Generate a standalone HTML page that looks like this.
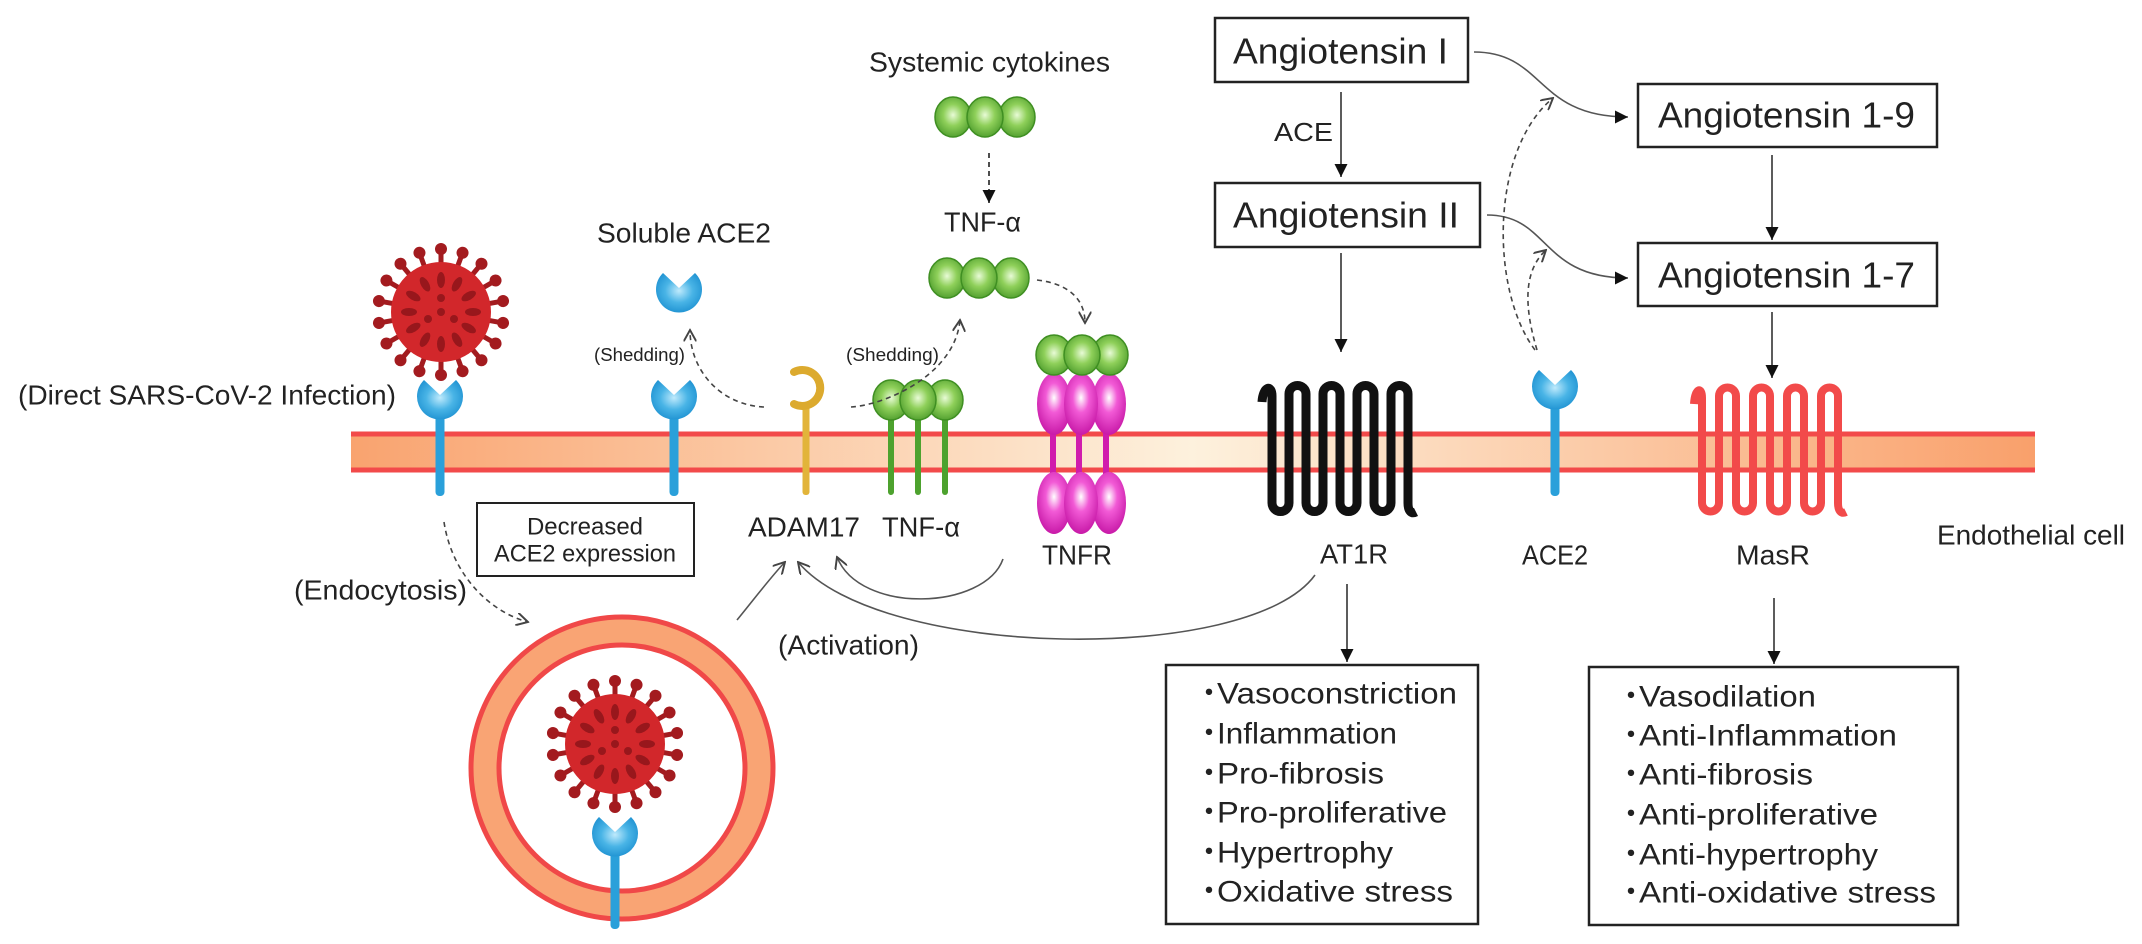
<!DOCTYPE html>
<html><head><meta charset="utf-8"><style>
html,body{margin:0;padding:0;background:#fff;}
svg{display:block;}
text{font-family:"Liberation Sans",Arial,sans-serif;fill:#222;}
</style></head><body>
<svg width="2142" height="944" viewBox="0 0 2142 944" xmlns="http://www.w3.org/2000/svg">
<defs>
  <linearGradient id="mem" x1="0" x2="1" y1="0" y2="0">
    <stop offset="0" stop-color="#f9a36f"/>
    <stop offset="0.5" stop-color="#fdf1dd"/>
    <stop offset="1" stop-color="#f9a06b"/>
  </linearGradient>
  <radialGradient id="blue" cx="0.5" cy="0.45" r="0.6">
    <stop offset="0" stop-color="#bfeafc"/><stop offset="0.5" stop-color="#49b4e6"/><stop offset="1" stop-color="#1b8fd0"/>
  </radialGradient>
  <radialGradient id="green" cx="0.5" cy="0.45" r="0.6">
    <stop offset="0" stop-color="#e8fbd6"/><stop offset="0.45" stop-color="#8fd05a"/><stop offset="1" stop-color="#4a9a2a"/>
  </radialGradient>
  <radialGradient id="mag" cx="0.5" cy="0.4" r="0.6">
    <stop offset="0" stop-color="#fff"/><stop offset="0.4" stop-color="#f25ad6"/><stop offset="1" stop-color="#c81aa8"/>
  </radialGradient>
  <marker id="fa" viewBox="0 0 10 10" refX="10" refY="5" markerWidth="13" markerHeight="13" markerUnits="userSpaceOnUse" orient="auto">
    <path d="M0,0 L10,5 L0,10z" fill="#111"/></marker>
  <marker id="oa" viewBox="0 0 10 10" refX="9" refY="5" markerWidth="13" markerHeight="13" markerUnits="userSpaceOnUse" orient="auto">
    <path d="M0,0 L9,5 L0,10" fill="none" stroke="#444" stroke-width="1.5"/></marker>
  <g id="sp"><line x1="0" y1="-48" x2="0" y2="-60" stroke="#a31b1f" stroke-width="5"/><circle cy="-63" r="6" fill="#a31b1f"/></g>
  <g id="dt"><ellipse cx="0" cy="-32" rx="4" ry="8" fill="#98171c"/></g>
  <g id="virus">
    <use href="#sp"/><use href="#sp" transform="rotate(20)"/><use href="#sp" transform="rotate(40)"/><use href="#sp" transform="rotate(60)"/><use href="#sp" transform="rotate(80)"/><use href="#sp" transform="rotate(100)"/><use href="#sp" transform="rotate(120)"/><use href="#sp" transform="rotate(140)"/><use href="#sp" transform="rotate(160)"/><use href="#sp" transform="rotate(180)"/><use href="#sp" transform="rotate(200)"/><use href="#sp" transform="rotate(220)"/><use href="#sp" transform="rotate(240)"/><use href="#sp" transform="rotate(260)"/><use href="#sp" transform="rotate(280)"/><use href="#sp" transform="rotate(300)"/><use href="#sp" transform="rotate(320)"/><use href="#sp" transform="rotate(340)"/>
    <circle r="50" fill="#d2272b"/>
    <use href="#dt"/><use href="#dt" transform="rotate(30)"/><use href="#dt" transform="rotate(60)"/><use href="#dt" transform="rotate(90)"/><use href="#dt" transform="rotate(120)"/><use href="#dt" transform="rotate(150)"/><use href="#dt" transform="rotate(180)"/><use href="#dt" transform="rotate(210)"/><use href="#dt" transform="rotate(240)"/><use href="#dt" transform="rotate(270)"/><use href="#dt" transform="rotate(300)"/><use href="#dt" transform="rotate(330)"/>
    <circle cx="0" cy="-14" r="4" fill="#98171c"/><circle cx="13" cy="7" r="4" fill="#98171c"/><circle cx="-13" cy="7" r="4" fill="#98171c"/><circle r="4" fill="#98171c"/>
  </g>
  <path id="cup" d="M-16,-17 A23,23 0 1,0 16,-17 L0,-2 Z" fill="url(#blue)"/>
  <g id="ball"><ellipse rx="18" ry="20" fill="url(#green)" stroke="#3f8f22" stroke-width="1.5"/></g>
  <g id="mo"><ellipse rx="17" ry="31" fill="url(#mag)"/></g>
</defs>

<rect x="351" y="432" width="1684" height="40" fill="url(#mem)"/>
<line x1="351" y1="434" x2="2035" y2="434" stroke="#f24a4a" stroke-width="5"/>
<line x1="351" y1="470" x2="2035" y2="470" stroke="#f24a4a" stroke-width="5"/>

<use href="#virus" transform="translate(441,312)"/>
<rect x="435.5" y="410" width="9" height="86" rx="4" fill="#2aa0da"/>
<use href="#cup" transform="translate(440,397)"/>
<rect x="669.5" y="410" width="9" height="86" rx="4" fill="#2aa0da"/>
<use href="#cup" transform="translate(674,397)"/>
<use href="#cup" transform="translate(679,290)"/>
<rect x="1550.5" y="400" width="9" height="96" rx="4" fill="#2aa0da"/>
<use href="#cup" transform="translate(1555,387)"/>

<rect x="802.5" y="405" width="7" height="90" rx="3" fill="#e2b43a"/>
<path d="M794,372 A18,18 0 1,1 794,404" fill="none" stroke="#dcaa2e" stroke-width="8" stroke-linecap="round"/>

<rect x="888" y="415" width="6" height="80" rx="3" fill="#4da22e"/>
<rect x="915" y="415" width="6" height="80" rx="3" fill="#4da22e"/>
<rect x="942" y="415" width="6" height="80" rx="3" fill="#4da22e"/>
<use href="#ball" transform="translate(891,400)"/><use href="#ball" transform="translate(945,400)"/><use href="#ball" transform="translate(918,400)"/>

<rect x="1050" y="425" width="6" height="60" fill="#d01cad"/>
<rect x="1076" y="425" width="6" height="60" fill="#d01cad"/>
<rect x="1103" y="425" width="6" height="60" fill="#d01cad"/>
<use href="#mo" transform="translate(1054,404)"/><use href="#mo" transform="translate(1109,404)"/><use href="#mo" transform="translate(1081,404)"/>
<use href="#mo" transform="translate(1054,503)"/><use href="#mo" transform="translate(1109,503)"/><use href="#mo" transform="translate(1081,503)"/>
<use href="#ball" transform="translate(1054,355)"/><use href="#ball" transform="translate(1110,355)"/><use href="#ball" transform="translate(1082,355)"/>

<use href="#ball" transform="translate(953,117)"/><use href="#ball" transform="translate(1017,117)"/><use href="#ball" transform="translate(985,117)"/>
<use href="#ball" transform="translate(947,278)"/><use href="#ball" transform="translate(1011,278)"/><use href="#ball" transform="translate(979,278)"/>

<path d="M1262,402 C1263,386 1272,384 1272,396 L1272,503 A8.5,8.5 0 0,0 1289,503 L1289,394 A8.5,8.5 0 0,1 1306,394 L1306,503 A8.5,8.5 0 0,0 1323,503 L1323,394 A8.5,8.5 0 0,1 1340,394 L1340,503 A8.5,8.5 0 0,0 1357,503 L1357,394 A8.5,8.5 0 0,1 1374,394 L1374,503 A8.5,8.5 0 0,0 1391,503 L1391,394 A8.5,8.5 0 0,1 1408,394 L1408,503 C1408,512 1412,514 1416,512" fill="none" stroke="#111" stroke-width="9" stroke-linejoin="round"/>
<path d="M1694,404 C1695,388 1702,386 1702,398 L1702,503 A8.5,8.5 0 0,0 1719,503 L1719,396 A8.5,8.5 0 0,1 1736,396 L1736,503 A8.5,8.5 0 0,0 1753,503 L1753,396 A8.5,8.5 0 0,1 1770,396 L1770,503 A8.5,8.5 0 0,0 1787,503 L1787,396 A8.5,8.5 0 0,1 1804,396 L1804,503 A8.5,8.5 0 0,0 1821,503 L1821,396 A8.5,8.5 0 0,1 1838,396 L1838,503 C1838,512 1842,514 1846,512" fill="none" stroke="#f24a4a" stroke-width="8" stroke-linejoin="round"/>

<circle cx="622" cy="768" r="137" fill="none" stroke="#f9a474" stroke-width="28"/>
<circle cx="622" cy="768" r="151" fill="none" stroke="#f04848" stroke-width="5"/>
<circle cx="622" cy="768" r="123" fill="none" stroke="#f04848" stroke-width="5"/>
<rect x="610.5" y="845" width="9" height="84" rx="4" fill="#2aa0da"/>
<use href="#virus" transform="translate(615,744)"/>
<use href="#cup" transform="translate(615,834)"/>

<g fill="#fff" stroke="#222" stroke-width="2.5">
  <rect x="1215" y="18" width="253" height="64"/>
  <rect x="1215" y="183" width="265" height="64"/>
  <rect x="1638" y="84" width="299" height="63"/>
  <rect x="1638" y="243" width="299" height="63"/>
  <rect x="477" y="503" width="217" height="73" stroke-width="2"/>
  <rect x="1166" y="665" width="312" height="259"/>
  <rect x="1589" y="667" width="369" height="258"/>
</g>

<g fill="none" stroke="#333" stroke-width="1.6">
  <line x1="1341" y1="92" x2="1341" y2="177" marker-end="url(#fa)"/>
  <line x1="1341" y1="253" x2="1341" y2="352" marker-end="url(#fa)"/>
  <line x1="1772" y1="155" x2="1772" y2="240" marker-end="url(#fa)"/>
  <line x1="1772" y1="312" x2="1772" y2="378" marker-end="url(#fa)"/>
  <line x1="1347" y1="584" x2="1347" y2="662" marker-end="url(#fa)"/>
  <line x1="1774" y1="598" x2="1774" y2="664" marker-end="url(#fa)"/>
  <path d="M1474,52 C1545,52 1535,117 1628,117" stroke="#555" marker-end="url(#fa)"/>
  <path d="M1487,215 C1550,215 1540,278 1628,278" stroke="#555" marker-end="url(#fa)"/>
  <path d="M737,620 C755,598 770,578 785,562" stroke="#555" marker-end="url(#oa)"/>
  <path d="M1315,575 C1250,665 880,660 798,562" stroke="#555" marker-end="url(#oa)"/>
  <path d="M1003,559 C985,610 860,615 837,557" stroke="#555" marker-end="url(#oa)"/>
</g>
<g fill="none" stroke="#444" stroke-width="1.6" stroke-dasharray="5,4">
  <line x1="989" y1="153" x2="989" y2="203" stroke="#222" marker-end="url(#fa)"/>
  <path d="M1037,280 C1070,284 1085,300 1085,323" marker-end="url(#oa)"/>
  <path d="M851,407 C885,405 955,375 960,320" marker-end="url(#oa)"/>
  <path d="M764,407 C720,405 690,370 690,330" marker-end="url(#oa)"/>
  <path d="M444,522 C452,575 490,612 528,622" marker-end="url(#oa)"/>
  <path d="M1535,350 C1490,290 1490,150 1553,98" marker-end="url(#oa)"/>
  <path d="M1537,350 C1525,310 1522,272 1546,250" marker-end="url(#oa)"/>
</g>

<g dominant-baseline="central">
<text x="18" y="395" font-size="28" textLength="378" lengthAdjust="spacingAndGlyphs">(Direct SARS-CoV-2 Infection)</text>
<text x="597" y="233" font-size="28" textLength="174" lengthAdjust="spacingAndGlyphs">Soluble ACE2</text>
<text x="594" y="355" font-size="18" textLength="91" lengthAdjust="spacingAndGlyphs" fill="#444">(Shedding)</text>
<text x="846" y="355" font-size="18" textLength="93" lengthAdjust="spacingAndGlyphs" fill="#444">(Shedding)</text>
<text x="869" y="62" font-size="28" textLength="241" lengthAdjust="spacingAndGlyphs">Systemic cytokines</text>
<text x="944" y="222" font-size="28" textLength="77" lengthAdjust="spacingAndGlyphs">TNF-α</text>
<text x="1233" y="51" font-size="36" textLength="215" lengthAdjust="spacingAndGlyphs">Angiotensin I</text>
<text x="1274" y="132" font-size="26" textLength="59" lengthAdjust="spacingAndGlyphs">ACE</text>
<text x="1233" y="215" font-size="36" textLength="226" lengthAdjust="spacingAndGlyphs">Angiotensin II</text>
<text x="1658" y="115" font-size="36" textLength="257" lengthAdjust="spacingAndGlyphs">Angiotensin 1-9</text>
<text x="1658" y="275" font-size="36" textLength="257" lengthAdjust="spacingAndGlyphs">Angiotensin 1-7</text>
<text x="585" y="527" font-size="24" text-anchor="middle">Decreased</text>
<text x="494" y="554" font-size="24" textLength="182" lengthAdjust="spacingAndGlyphs">ACE2 expression</text>
<text x="294" y="590" font-size="28" textLength="173" lengthAdjust="spacingAndGlyphs">(Endocytosis)</text>
<text x="748" y="527" font-size="28" textLength="112" lengthAdjust="spacingAndGlyphs">ADAM17</text>
<text x="882" y="527" font-size="28" textLength="78" lengthAdjust="spacingAndGlyphs">TNF-α</text>
<text x="1042" y="555" font-size="28" textLength="70" lengthAdjust="spacingAndGlyphs">TNFR</text>
<text x="1320" y="554" font-size="28" textLength="68" lengthAdjust="spacingAndGlyphs">AT1R</text>
<text x="1522" y="555" font-size="28" textLength="66" lengthAdjust="spacingAndGlyphs">ACE2</text>
<text x="1736" y="555" font-size="28" textLength="74" lengthAdjust="spacingAndGlyphs">MasR</text>
<text x="1937" y="535" font-size="28" textLength="188" lengthAdjust="spacingAndGlyphs">Endothelial cell</text>
<text x="778" y="645" font-size="28" textLength="141" lengthAdjust="spacingAndGlyphs">(Activation)</text>
</g>
<g dominant-baseline="central" font-size="30">
<text x="1194" y="694">・</text><text x="1217" y="694" textLength="240" lengthAdjust="spacingAndGlyphs">Vasoconstriction</text>
<text x="1194" y="734">・</text><text x="1217" y="734" textLength="180" lengthAdjust="spacingAndGlyphs">Inflammation</text>
<text x="1194" y="774">・</text><text x="1217" y="774" textLength="167" lengthAdjust="spacingAndGlyphs">Pro-fibrosis</text>
<text x="1194" y="813">・</text><text x="1217" y="813" textLength="230" lengthAdjust="spacingAndGlyphs">Pro-proliferative</text>
<text x="1194" y="853">・</text><text x="1217" y="853" textLength="176" lengthAdjust="spacingAndGlyphs">Hypertrophy</text>
<text x="1194" y="892">・</text><text x="1217" y="892" textLength="236" lengthAdjust="spacingAndGlyphs">Oxidative stress</text>
<text x="1616" y="697">・</text><text x="1639" y="697" textLength="177" lengthAdjust="spacingAndGlyphs">Vasodilation</text>
<text x="1616" y="736">・</text><text x="1639" y="736" textLength="258" lengthAdjust="spacingAndGlyphs">Anti-Inflammation</text>
<text x="1616" y="775">・</text><text x="1639" y="775" textLength="174" lengthAdjust="spacingAndGlyphs">Anti-fibrosis</text>
<text x="1616" y="815">・</text><text x="1639" y="815" textLength="239" lengthAdjust="spacingAndGlyphs">Anti-proliferative</text>
<text x="1616" y="855">・</text><text x="1639" y="855" textLength="239" lengthAdjust="spacingAndGlyphs">Anti-hypertrophy</text>
<text x="1616" y="893">・</text><text x="1639" y="893" textLength="297" lengthAdjust="spacingAndGlyphs">Anti-oxidative stress</text>
</g>
</svg>
</body></html>
